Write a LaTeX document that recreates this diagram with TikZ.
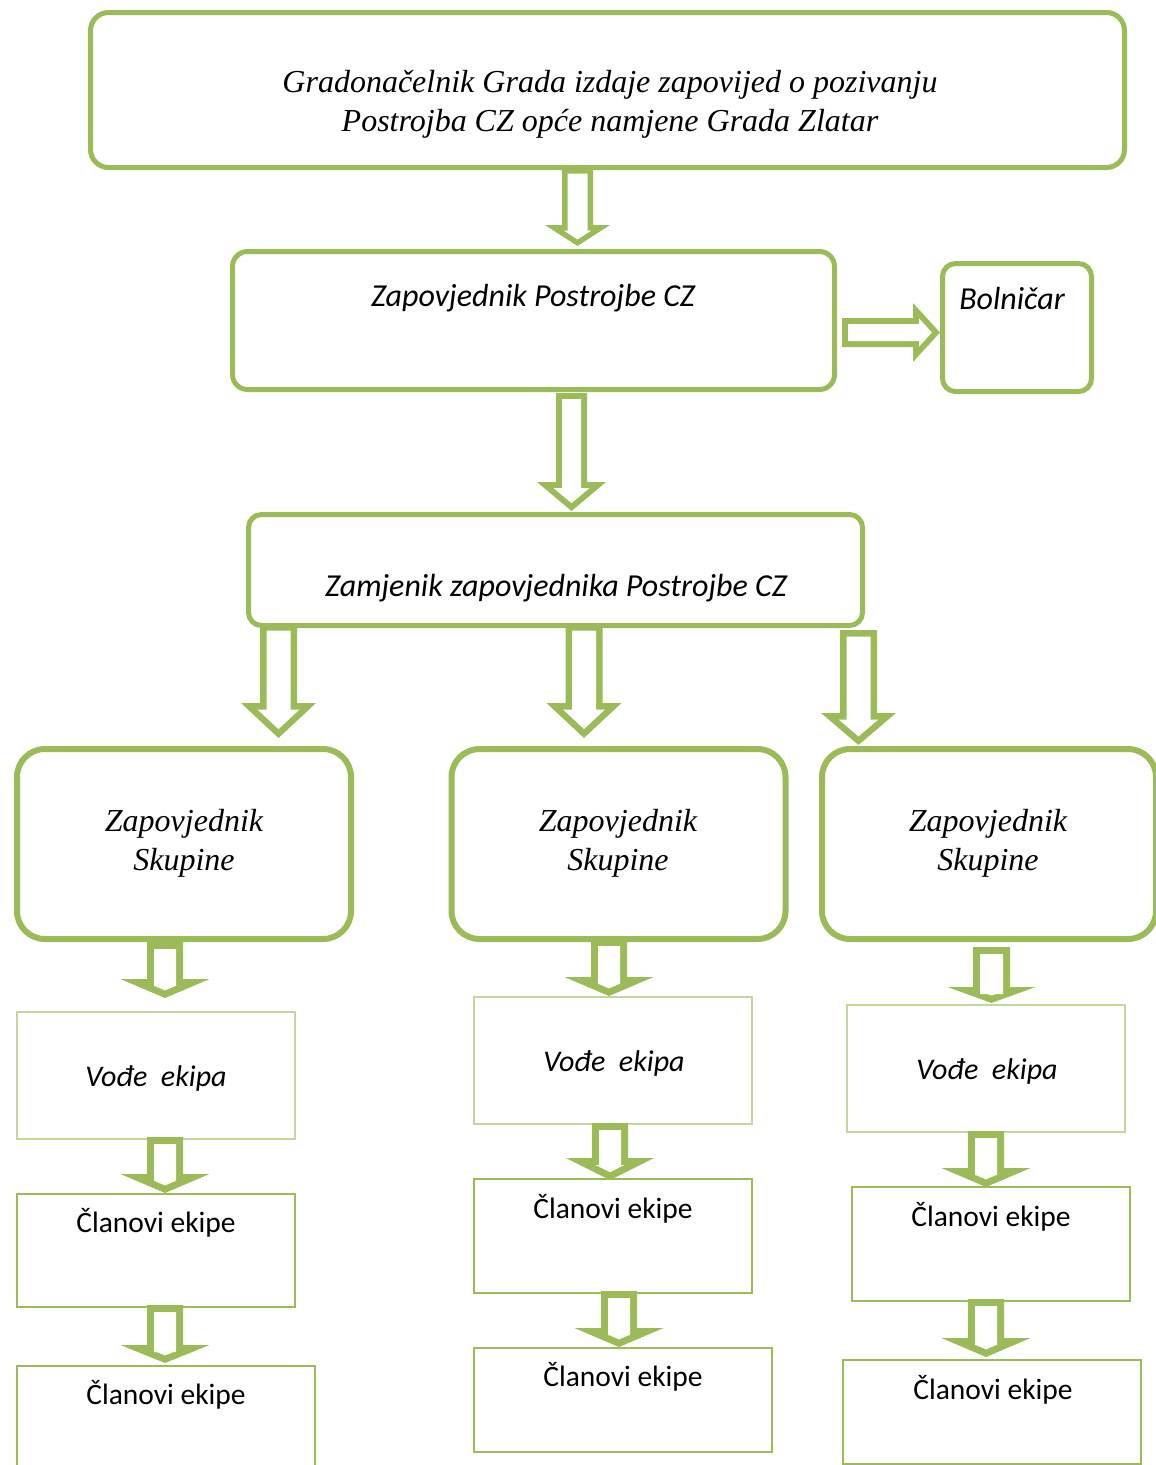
\documentclass[tikz,border=0pt]{standalone}
\usepackage{fontspec}
\setmainfont{Liberation Serif}
\newfontfamily\calfont{Carlito}
\definecolor{gr}{HTML}{9BBB59}
\definecolor{lgr}{HTML}{C3D69B}
% #1 cx, #2 top, #3 tip, #4 half shaft, #5 head top y, #6 half head, #7 line width
\newcommand\barrow[7]{%
  \pgfmathsetmacro\baHL{#3-#5}%
  \pgfmathsetmacro\baL{sqrt(#6*#6+\baHL*\baHL)}%
  \pgfmathsetmacro\baTip{#3-#7*\baL/#6}%
  \pgfmathsetmacro\baIH{\baTip-#5-#7}%
  \pgfmathsetmacro\baIHW{max(\baIH,0)*#6/\baHL}%
  \pgfmathsetmacro\baIW{#4-#7}%
  \fill[gr] ({#1-#4},#2) -- ({#1-#4},#5) -- ({#1-#6},#5) -- (#1,#3)
    -- ({#1+#6},#5) -- ({#1+#4},#5) -- ({#1+#4},#2) -- cycle;
  \fill[white] ({#1-\baIW},{#2+#7}) -- ({#1-\baIW},{#5+#7}) -- ({#1-\baIHW},{#5+#7})
    -- (#1,\baTip) -- ({#1+\baIHW},{#5+#7}) -- ({#1+\baIW},{#5+#7})
    -- ({#1+\baIW},{#2+#7}) -- cycle;}
\tikzset{
  rbox/.style={draw=gr, line width=5pt, rounded corners=18pt, fill=white, inner sep=0pt},
  bigbox/.style={draw=gr, line width=6pt, rounded corners=28pt, fill=white, inner sep=0pt},
  lbox/.style={draw=lgr, line width=2pt, fill=white, inner sep=0pt, minimum width=278pt, minimum height=127pt},
  cbox/.style={draw=gr, line width=2pt, fill=white, inner sep=0pt},
  sertxt/.style={font=\fontsize{32}{38.5}\selectfont\itshape, anchor=base, align=center, inner sep=0pt},
  caltxt/.style={font=\fontsize{32}{36}\selectfont\calfont\itshape, anchor=base, inner sep=0pt},
  calit/.style={font=\fontsize{30}{34}\selectfont\calfont\itshape, anchor=base, inner sep=0pt},
  calup/.style={font=\fontsize{29.5}{34}\selectfont\calfont, anchor=base, inner sep=0pt},
}
\begin{document}
\begin{tikzpicture}[x=1pt,y=-1pt]
\useasboundingbox (0,0) rectangle (1156,1465);
\clip (0,0) rectangle (1156,1465);
% boxes
\node[rbox, minimum width=1034pt, minimum height=155pt] (top) at (607.5,90) {};
\node[rbox, rounded corners=15pt, minimum width=602pt, minimum height=138pt] (zap) at (533.5,320.5) {};
\node[rbox, rounded corners=13pt, minimum width=149pt, minimum height=128pt] (bol) at (1017,327.5) {};
\node[rbox, rounded corners=13pt, minimum width=614pt, minimum height=111pt] (zam) at (555.5,570) {};
\node[bigbox, minimum width=334pt, minimum height=190pt] (sk1) at (184,844) {};
\node[bigbox, minimum width=334pt, minimum height=190pt] (sk2) at (618.5,844) {};
\node[bigbox, minimum width=334pt, minimum height=190pt] (sk3) at (989,844) {};
\node[lbox] (v1) at (156,1075.5) {};
\node[lbox] (v2) at (612.5,1060.5) {};
\node[lbox] (v3) at (985.5,1068.5) {};
\node[cbox, minimum width=278pt, minimum height=113pt] (c1a) at (156,1250.5) {};
\node[cbox, minimum width=278pt, minimum height=114pt] (c2a) at (612.5,1236) {};
\node[cbox, minimum width=278pt, minimum height=114pt] (c3a) at (990.5,1244) {};
\node[cbox, minimum width=298pt, minimum height=104pt] (c1b) at (166,1418) {};
\node[cbox, minimum width=298pt, minimum height=104pt] (c2b) at (623,1400) {};
\node[cbox, minimum width=298pt, minimum height=104pt] (c3b) at (992,1412) {};
% texts
\node[sertxt] (t0) at (610,131) {Gradonačelnik Grada izdaje zapovijed o pozivanju\\ Postrojba CZ opće namjene Grada Zlatar};
\node[caltxt] (t1) at (533,306) {Zapovjednik Postrojbe CZ};
\node[caltxt] (t2) at (1012,309) {Bolničar};
\node[caltxt] (t3) at (556,596) {Zamjenik zapovjednika Postrojbe CZ};
\node[sertxt] (s1) at (184,870) {Zapovjednik\\ Skupine};
\node[sertxt] (s2) at (618,870) {Zapovjednik\\ Skupine};
\node[sertxt] (s3) at (988,870) {Zapovjednik\\ Skupine};
\node[calit] (vt1) at (156,1086) {Vođe~~ekipa};
\node[calit] (vt2) at (614,1071) {Vođe~~ekipa};
\node[calit] (vt3) at (987,1079) {Vođe~~ekipa};
\node[calup] (ct1) at (156,1232) {Članovi ekipe};
\node[calup] (ct2) at (613,1218) {Članovi ekipe};
\node[calup] (ct3) at (991,1226) {Članovi ekipe};
\node[calup] (ct4) at (166,1404) {Članovi ekipe};
\node[calup] (ct5) at (623,1386) {Članovi ekipe};
\node[calup] (ct6) at (993,1399) {Članovi ekipe};
% arrows
\barrow{577.5}{168}{246}{15.5}{225}{32.5}{5.5}
\barrow{571.5}{393}{511}{15.5}{482}{34.5}{6}
\barrow{278.5}{624}{738}{18.5}{703}{37.5}{6.5}
\barrow{584}{624}{738}{18.5}{703}{37.5}{6.5}
\barrow{858.5}{630}{745}{18.5}{713}{37.5}{6.5}
\fill[gr] (842,318) -- (913,318) -- (913,303) -- (940,332.5) -- (913,362) -- (913,347) -- (842,347) -- cycle;
\fill[white] (848,324) -- (919,324) -- (919,318.4) -- (931.9,332.5) -- (919,346.6) -- (919,341) -- (848,341) -- cycle;
\barrow{165}{942}{998}{18}{979}{44.5}{7}
\barrow{609}{939}{996}{18}{977}{44.5}{7}
\barrow{991.5}{947}{1003}{18.5}{987}{44}{7}
\barrow{165}{1137}{1193}{18}{1174}{44.5}{7}
\barrow{610}{1123}{1180}{18}{1158}{44}{7}
\barrow{986}{1131}{1187}{18}{1168}{44.5}{7}
\barrow{165}{1305}{1363}{18}{1345}{44.5}{7}
\barrow{619}{1291}{1347}{18}{1328}{44.5}{7}
\barrow{986}{1299}{1357}{18}{1338}{44.5}{7}
\end{tikzpicture}
\end{document}
